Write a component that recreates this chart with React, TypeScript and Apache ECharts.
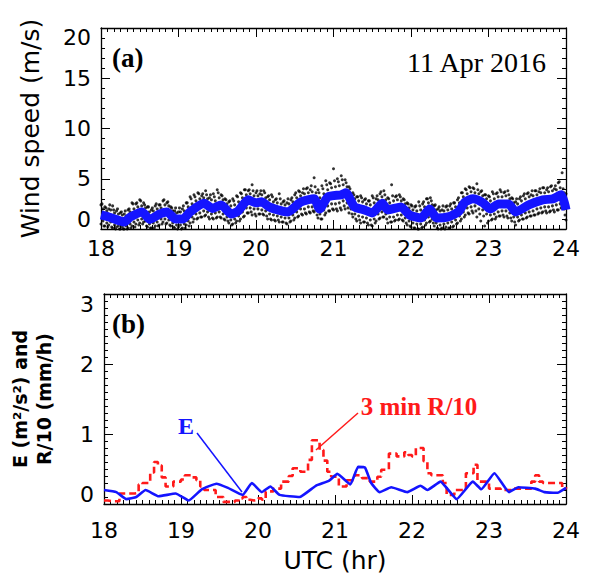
import React, { useEffect, useRef } from "react";
import * as echarts from "echarts";

// ---------- data ----------
const xTicks = [18, 19, 20, 21, 22, 23, 24];
const windStart = 18; // first sample hour of the dot arrays
const windStep = 0.05; // 3-minute spacing of dot samples

// upper band of 1-s wind speed dots (m/s), every 3 min from 18:00
const windHi = [
  2.4, 2.2, 2.0, 2.3, 1.8, 1.6, 1.5, 1.9, 2.6, 2.5, 2.9, 2.6, 2.2, 1.9, 2.3, 2.4, 2.8, 2.6, 2.2, 1.8,
  1.7, 2.0, 2.6, 3.2, 3.4, 3.6, 3.3, 3.8, 3.1, 3.5, 3.9, 3.4, 3.0, 2.7, 3.0, 3.3, 3.6, 3.9, 3.8, 4.4,
  3.6, 3.5, 3.8, 3.2, 3.4, 2.9, 3.5, 2.7, 2.6, 2.9, 3.4, 3.8, 3.6, 4.0, 3.9, 5.1, 3.9, 4.3, 4.8, 4.6,
  6.0, 5.0, 5.3, 4.9, 4.2, 3.6, 3.2, 3.3, 2.9, 2.8, 3.3, 3.0, 3.5, 3.8, 3.1, 4.4, 3.2, 3.4, 3.0, 2.6,
  2.4, 2.2, 2.7, 2.5, 3.0, 3.1, 2.3, 2.0, 1.9, 2.2, 2.3, 2.6, 2.9, 3.6, 4.0, 4.2, 4.1, 4.5, 3.7, 3.4,
  3.3, 3.7, 3.5, 3.9, 3.6, 3.8, 3.1, 2.7, 3.0, 3.3, 3.5, 3.4, 3.8, 3.7, 4.1, 3.9, 4.2, 4.0, 4.6, 5.6,
  3.5,
];
// lower band of wind speed dots (m/s), every 3 min from 18:00
const windLo = [
  0.5, 0.3, 0.4, 0.1, 0.2, 0.0, 0.0, 0.1, 0.3, 0.5, 0.6, 0.7, 0.2, 0.1, 0.3, 0.4, 0.7, 0.6, 0.3, 0.1,
  0.2, 0.1, 0.4, 0.6, 1.0, 1.1, 1.2, 1.4, 1.0, 1.0, 1.2, 1.1, 0.9, 0.6, 0.5, 0.8, 1.0, 1.3, 1.6, 1.4,
  1.3, 1.5, 1.4, 1.0, 0.9, 0.8, 0.7, 0.7, 0.5, 0.8, 1.1, 1.3, 1.4, 1.5, 1.6, 1.7, 1.1, 1.0, 1.6, 1.8,
  1.9, 1.8, 1.9, 2.0, 1.6, 1.2, 0.8, 0.6, 0.7, 0.4, 0.3, 0.8, 1.1, 1.2, 0.6, 0.7, 0.9, 1.0, 0.8, 0.4,
  0.2, 0.1, 0.0, 0.2, 0.6, 0.8, 0.3, 0.0, 0.1, 0.2, 0.1, 0.3, 0.6, 1.0, 1.4, 1.5, 1.6, 1.2, 0.8, 0.3,
  0.8, 1.0, 1.2, 1.3, 1.2, 1.1, 0.8, 0.4, 0.9, 1.0, 1.2, 1.3, 1.4, 1.6, 1.7, 1.6, 1.8, 1.7, 1.9, 2.1,
  0.9,
];
// inner upper dots (m/s), every 3 min from 18:01.5
const windHi2 = [
  2.0, 1.8, 1.9, 1.6, 1.5, 1.4, 1.3, 1.7, 2.0, 2.2, 2.3, 2.1, 1.7, 1.8, 2.0, 2.1, 2.4, 2.3, 1.8, 1.6,
  1.7, 1.8, 2.2, 2.5, 2.8, 3.0, 3.1, 3.0, 2.9, 2.8, 3.1, 2.9, 2.5, 2.3, 2.4, 2.7, 3.1, 3.4, 3.5, 3.3,
  3.3, 3.4, 3.1, 2.9, 2.7, 2.6, 2.5, 2.4, 2.5, 2.7, 3.1, 3.3, 3.5, 3.6, 3.7, 3.6, 3.1, 3.5, 3.9, 4.1,
  4.2, 4.3, 4.4, 4.2, 3.5, 3.0, 2.8, 2.7, 2.5, 2.4, 2.6, 2.9, 3.2, 2.9, 2.6, 2.8, 2.9, 2.8, 2.5, 2.1,
  1.9, 1.8, 1.9, 2.2, 2.6, 2.4, 1.9, 1.8, 1.8, 1.9, 2.0, 2.2, 2.6, 3.2, 3.5, 3.7, 3.6, 3.5, 3.3, 3.0,
  2.8, 3.0, 3.2, 3.2, 3.3, 3.0, 2.6, 2.5, 2.8, 3.0, 3.2, 3.3, 3.4, 3.6, 3.6, 3.7, 3.8, 3.9, 4.1, 3.6,
];
// inner lower dots (m/s), every 3 min from 18:01.5
const windLo2 = [
  0.8, 0.6, 0.7, 0.4, 0.3, 0.2, 0.3, 0.5, 0.7, 0.9, 1.0, 0.8, 0.5, 0.6, 0.7, 1.0, 1.0, 0.9, 0.6, 0.4,
  0.4, 0.5, 0.8, 1.2, 1.5, 1.6, 1.8, 1.7, 1.5, 1.6, 1.7, 1.5, 1.2, 0.9, 1.0, 1.3, 1.7, 2.1, 2.1, 2.0,
  2.0, 1.9, 1.8, 1.5, 1.4, 1.3, 1.2, 1.1, 1.1, 1.4, 1.7, 2.0, 2.0, 2.2, 2.2, 1.9, 1.5, 1.9, 2.3, 2.5,
  2.5, 2.6, 2.8, 2.6, 2.0, 1.5, 1.3, 1.2, 1.1, 0.9, 1.0, 1.5, 1.7, 1.5, 1.2, 1.2, 1.4, 1.4, 1.1, 0.8,
  0.6, 0.5, 0.5, 0.9, 1.2, 1.0, 0.6, 0.4, 0.5, 0.6, 0.7, 0.9, 1.3, 1.7, 2.1, 2.2, 2.3, 2.0, 1.9, 1.5,
  1.4, 1.5, 1.7, 1.8, 1.8, 1.6, 1.2, 1.2, 1.4, 1.6, 1.7, 1.8, 2.0, 2.1, 2.2, 2.2, 2.3, 2.4, 2.5, 2.0,
];
// middle-upper dots (m/s), every 3 min from 18:00.75
const windHi3 = [
  2.5, 2.1, 2.4, 1.9, 2.0, 1.7, 1.8, 2.0, 2.5, 2.6, 2.8, 2.4, 2.2, 2.1, 2.5, 2.4, 2.9, 2.7, 2.1, 2.1,
  2.1, 2.3, 2.6, 3.0, 3.2, 3.5, 3.5, 3.4, 3.4, 3.2, 3.6, 3.3, 2.9, 2.8, 2.8, 3.2, 3.5, 3.9, 3.9, 3.8,
  3.8, 3.8, 3.6, 3.3, 3.2, 3.0, 3.0, 2.8, 3.0, 3.1, 3.6, 3.7, 4.0, 4.1, 4.3, 4.2, 3.6, 4.0, 4.4, 4.5,
  4.8, 4.7, 4.9, 4.6, 4.0, 3.4, 3.2, 3.1, 3.0, 2.8, 3.1, 3.3, 3.7, 3.4, 3.0, 3.3, 3.3, 3.2, 2.9, 2.5,
  2.3, 2.3, 2.3, 2.7, 3.0, 2.8, 2.4, 2.2, 2.3, 2.3, 2.5, 2.6, 3.1, 3.6, 3.9, 4.1, 4.0, 3.9, 3.8, 3.4,
  3.2, 3.5, 3.6, 3.7, 3.7, 3.4, 3.0, 3.0, 3.2, 3.5, 3.6, 3.8, 3.8, 4.0, 4.1, 4.1, 4.3, 4.3, 4.7, 4.0,
];
// middle-lower dots (m/s), every 3 min from 18:02.25
const windLo3 = [
  0.3, 0.2, 0.2, 0.0, 0.0, 0.0, 0.0, 0.1, 0.2, 0.4, 0.5, 0.3, 0.1, 0.1, 0.3, 0.5, 0.5, 0.4, 0.2, 0.0,
  0.0, 0.1, 0.3, 0.7, 1.0, 1.2, 1.3, 1.2, 1.1, 1.1, 1.2, 1.0, 0.8, 0.4, 0.6, 0.8, 1.2, 1.6, 1.7, 1.5,
  1.5, 1.5, 1.3, 1.0, 0.9, 0.9, 0.7, 0.6, 0.7, 0.9, 1.2, 1.5, 1.6, 1.7, 1.8, 1.4, 1.0, 1.4, 1.8, 2.0,
  2.0, 2.1, 2.3, 2.1, 1.5, 1.0, 0.9, 0.7, 0.6, 0.4, 0.6, 1.0, 1.2, 1.0, 0.7, 0.8, 0.9, 0.9, 0.6, 0.3,
  0.1, 0.0, 0.1, 0.4, 0.7, 0.6, 0.1, 0.0, 0.0, 0.1, 0.2, 0.5, 0.8, 1.2, 1.6, 1.8, 1.8, 1.5, 1.3, 0.6,
  0.9, 1.0, 1.3, 1.4, 1.3, 1.1, 0.7, 0.8, 1.0, 1.1, 1.3, 1.4, 1.5, 1.6, 1.8, 1.7, 1.9, 1.9, 2.1, 1.4,
];
// running-mean wind speed (blue), [hour, m/s]
const windMean: [number, number][] = [
  [18.0, 1.4], [18.1, 1.2], [18.3, 0.7], [18.38, 1.2], [18.53, 1.7], [18.63, 0.95], [18.76, 1.5],
  [18.85, 1.7], [18.96, 1.0], [19.06, 1.0], [19.15, 1.7], [19.33, 2.55], [19.44, 2.05], [19.55, 2.4],
  [19.68, 1.5], [19.77, 1.8], [19.9, 2.9], [20.0, 2.6], [20.07, 2.7], [20.17, 2.2], [20.28, 1.9],
  [20.41, 1.7], [20.58, 2.7], [20.75, 3.0], [20.82, 2.0], [20.93, 3.2], [21.1, 3.4], [21.16, 3.6],
  [21.27, 2.2], [21.4, 1.9], [21.5, 1.6], [21.63, 2.55], [21.7, 1.9], [21.87, 2.2], [21.98, 1.4],
  [22.13, 1.1], [22.24, 2.0], [22.33, 1.1], [22.48, 1.2], [22.61, 1.7], [22.7, 2.7], [22.8, 3.0],
  [22.93, 2.6], [23.02, 2.0], [23.13, 2.5], [23.26, 2.5], [23.35, 1.7], [23.52, 2.4], [23.7, 2.9],
  [23.83, 3.0], [23.94, 3.4], [24.0, 1.9],
];
// E (m2/s2), [hour, value]
const energyE: [number, number][] = [
  [18.0, 0.2], [18.16, 0.17], [18.29, 0.07], [18.42, 0.1], [18.54, 0.2], [18.71, 0.11], [18.93, 0.15],
  [19.1, 0.05], [19.27, 0.21], [19.46, 0.29], [19.61, 0.23], [19.8, 0.13], [19.92, 0.3], [20.05, 0.17],
  [20.16, 0.25], [20.28, 0.13], [20.54, 0.1], [20.75, 0.26], [20.92, 0.33], [21.03, 0.43], [21.2, 0.28],
  [21.3, 0.53], [21.39, 0.52], [21.47, 0.3], [21.58, 0.17], [21.73, 0.24], [21.94, 0.17], [22.11, 0.26],
  [22.2, 0.2], [22.37, 0.32], [22.58, 0.07], [22.79, 0.32], [22.9, 0.21], [23.07, 0.44], [23.26, 0.17],
  [23.38, 0.24], [23.6, 0.22], [23.72, 0.17], [23.89, 0.16], [24.0, 0.23],
];
// 3-min rain rate / 10 (mm/h), every 3 min from 18:00
const rainR10 = [
  0.05, 0.04, 0.04, 0.04, 0.15, 0.15, 0.15, 0.15, 0.16, 0.28, 0.30, 0.30, 0.45, 0.60, 0.55, 0.38, 0.25, 0.25, 0.32, 0.32,
  0.35, 0.41, 0.41, 0.38, 0.34, 0.25, 0.20, 0.20, 0.20, 0.10, 0.10, 0.03, 0.03, 0.03, 0.05, 0.08, 0.10, 0.06, 0.05, 0.06,
  0.08, 0.06, 0.18, 0.18, 0.22, 0.22, 0.32, 0.32, 0.40, 0.51, 0.51, 0.46, 0.46, 0.63, 0.91, 0.91, 0.77, 0.62, 0.46, 0.39,
  0.39, 0.25, 0.25, 0.34, 0.34, 0.41, 0.41, 0.37, 0.37, 0.32, 0.32, 0.39, 0.49, 0.49, 0.72, 0.72, 0.68, 0.68, 0.74, 0.70,
  0.68, 0.80, 0.80, 0.61, 0.44, 0.41, 0.41, 0.41, 0.30, 0.13, 0.13, 0.20, 0.20, 0.20, 0.44, 0.44, 0.56, 0.32, 0.32, 0.32,
  0.22, 0.22, 0.22, 0.20, 0.20, 0.20, 0.22, 0.22, 0.22, 0.22, 0.22, 0.32, 0.41, 0.32, 0.30, 0.30, 0.30, 0.30, 0.30, 0.22,
  0.24,
];

// ---------- styling ----------
const SANS = "DejaVu Sans";
const SERIF = "Liberation Serif";
const BLUE = "#1414ff";
const RED = "#ff1a1a";

const W = 589;
const H = 576;
const GRID_L = 101;
const GRID_W = 465;
const G1_TOP = 28;
const G1_H = 201;
const G2_TOP = 294;
const G2_H = 210;

function xAxisDef(gridIndex: number, bottom: boolean, labelMargin: number, name?: string) {
  return {
    type: "value",
    gridIndex,
    position: bottom ? "bottom" : "top",
    min: 18,
    max: 24,
    interval: 1,
    name: name || "",
    nameLocation: "middle",
    nameGap: 44,
    nameTextStyle: { fontFamily: SANS, fontSize: 25, color: "#000" },
    axisLine: { show: true, onZero: false, lineStyle: { color: "#000", width: 1.3 } },
    axisTick: { show: true, inside: true, length: 9, lineStyle: { color: "#000", width: 1 } },
    minorTick: { show: true, splitNumber: 12, length: 4, lineStyle: { color: "#000", width: 1 } },
    splitLine: { show: false },
    axisLabel: {
      show: bottom,
      margin: labelMargin,
      fontFamily: SANS,
      fontSize: 22,
      color: "#000",
      formatter: (v: number) => (xTicks.includes(v) ? String(v) : ""),
    },
  };
}

function yAxisDef(
  gridIndex: number,
  left: boolean,
  max: number,
  interval: number,
  minorSplit: number,
  shiftTop: number,
  shiftBottom: number,
  name?: any,
) {
  const richBase = { fontFamily: SANS, fontSize: 22, color: "#000" };
  return {
    type: "value",
    gridIndex,
    position: left ? "left" : "right",
    min: 0,
    max,
    interval,
    axisLine: { show: true, onZero: false, lineStyle: { color: "#000", width: 1.3 } },
    axisTick: { show: true, inside: true, length: 9, lineStyle: { color: "#000", width: 1 } },
    minorTick: { show: true, splitNumber: minorSplit, length: 4, lineStyle: { color: "#000", width: 1 } },
    splitLine: { show: false },
    axisLabel: {
      show: left,
      margin: 10,
      ...richBase,
      formatter: (v: number) => (v === max ? `{t|${v}}` : v === 0 ? `{b|${v}}` : String(v)),
      rich: {
        t: { ...richBase, padding: [shiftTop * 2, 0, 0, 0] },
        b: { ...richBase, padding: [0, 0, shiftBottom * 2, 0] },
      },
    },
    ...(name || {}),
  };
}

export default function App() {
  const ref = useRef<HTMLDivElement>(null);

  useEffect(() => {
    if (!ref.current) return;
    const chart = echarts.init(ref.current, null, { renderer: "svg", width: W, height: H });

    const at = (arr: number[], offset: number) =>
      arr.map((v, i) => [windStart + (i + offset) * windStep, v] as [number, number]);
    const dotData: [number, number][] = [
      ...at(windHi, 0),
      ...at(windLo, 0),
      ...at(windHi2, 0.5),
      ...at(windLo2, 0.5),
      ...at(windHi3, 0.25),
      ...at(windLo3, 0.75),
    ];
    const rainData = rainR10.map((v, i) => [windStart + i * windStep, v]);

    const option: any = {
      animation: false,
      backgroundColor: "#fff",
      grid: [
        { left: GRID_L, top: G1_TOP, width: GRID_W, height: G1_H },
        { left: GRID_L, top: G2_TOP, width: GRID_W, height: G2_H },
      ],
      xAxis: [
        xAxisDef(0, true, 8),
        xAxisDef(0, false, 8),
        xAxisDef(1, true, 15, "UTC (hr)"),
        xAxisDef(1, false, 15),
      ],
      yAxis: [
        yAxisDef(0, true, 20, 5, 5, 9, 10, {
          name: "Wind speed (m/s)",
          nameLocation: "middle",
          nameGap: 58,
          nameTextStyle: { fontFamily: SANS, fontSize: 25, color: "#000" },
        }),
        yAxisDef(0, false, 20, 5, 5, 9, 10),
        yAxisDef(1, true, 3, 1, 10, 10, 10, {
          name: "E (m²/s²) and\nR/10 (mm/h)",
          nameLocation: "middle",
          nameGap: 48,
          nameTextStyle: {
            fontFamily: SANS,
            fontSize: 19,
            fontWeight: "bold",
            color: "#000",
            lineHeight: 24,
          },
        }),
        yAxisDef(1, false, 3, 1, 10, 10, 10),
      ],
      series: [
        {
          type: "scatter",
          xAxisIndex: 0,
          yAxisIndex: 0,
          data: dotData,
          symbol: "circle",
          symbolSize: 3,
          itemStyle: { color: "#000" },
          z: 2,
          clip: true,
        },
        {
          type: "line",
          xAxisIndex: 0,
          yAxisIndex: 0,
          data: windMean,
          showSymbol: false,
          smooth: 0.2,
          lineStyle: { color: BLUE, width: 9 },
          z: 3,
          clip: true,
        },
        {
          type: "line",
          xAxisIndex: 2,
          yAxisIndex: 2,
          data: rainData,
          step: "end",
          showSymbol: false,
          lineStyle: { color: RED, width: 2.6, type: [7, 4] },
          z: 2,
          clip: true,
        },
        {
          type: "line",
          xAxisIndex: 2,
          yAxisIndex: 2,
          data: energyE,
          showSymbol: false,
          smooth: 0.12,
          lineStyle: { color: BLUE, width: 2.6 },
          z: 3,
          clip: true,
        },
      ],
      graphic: [
        {
          type: "text",
          x: 112,
          y: 58,
          style: { text: "(a)", fontFamily: SERIF, fontWeight: "bold", fontSize: 27, fill: "#000", verticalAlign: "middle" },
        },
        {
          type: "text",
          x: 546,
          y: 62,
          style: { text: "11 Apr 2016", fontFamily: SERIF, fontSize: 28, fill: "#000", align: "right", verticalAlign: "middle" },
        },
        {
          type: "text",
          x: 112,
          y: 324,
          style: { text: "(b)", fontFamily: SERIF, fontWeight: "bold", fontSize: 27, fill: "#000", verticalAlign: "middle" },
        },
        {
          type: "text",
          x: 186,
          y: 426,
          style: { text: "E", fontFamily: SERIF, fontWeight: "bold", fontSize: 24, fill: BLUE, align: "center", verticalAlign: "middle" },
        },
        {
          type: "line",
          shape: { x1: 197, y1: 433, x2: 242, y2: 492 },
          style: { stroke: BLUE, lineWidth: 1.5 },
        },
        {
          type: "text",
          x: 419,
          y: 406,
          style: { text: "3 min R/10", fontFamily: SERIF, fontWeight: "bold", fontSize: 25, fill: RED, align: "center", verticalAlign: "middle" },
        },
        {
          type: "line",
          shape: { x1: 358, y1: 413, x2: 316, y2: 450 },
          style: { stroke: RED, lineWidth: 1.5 },
        },
      ],
    };

    chart.setOption(option);
    return () => chart.dispose();
  }, []);

  return (
    <div
      ref={ref}
      style={{ position: "fixed", left: 0, top: 0, width: W, height: H, background: "#fff" }}
    />
  );
}
